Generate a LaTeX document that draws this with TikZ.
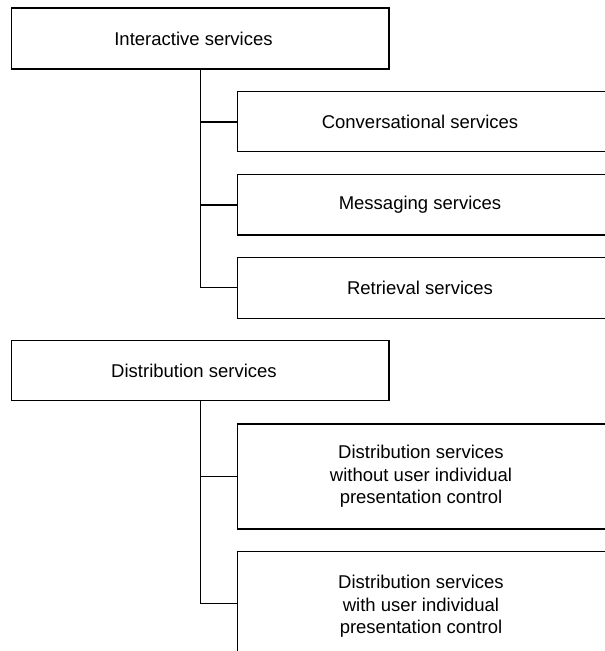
\documentclass[tikz,border=0pt]{standalone}
\usepackage{fontspec}
\setmainfont{Liberation Sans}
\begin{document}
\begin{tikzpicture}[x=1pt,y=-1pt,
  box/.style={draw, line width=1.2pt, rectangle, inner sep=0pt, outer sep=0pt},
  lbl/.style={font=\fontsize{18.5}{22.4}\selectfont, align=center, inner sep=0pt},
  link/.style={line width=0.9pt},
  boldlink/.style={line width=1.7pt}]
\useasboundingbox (0,0) rectangle (605,651);
\clip (0,0) rectangle (605,651);

% Interactive services group
\node[box, minimum width=377.3pt, minimum height=61pt] (p1) at (200.35,38.5) {};
\node[lbl] (tp1) at (193.5,38.5) {Interactive services};
\node[box, minimum width=379.3pt, minimum height=60pt] (c1) at (427.35,121.7) {};
\node[lbl] (tc1) at (420,121.7) {Conversational services};
\node[box, minimum width=379.3pt, minimum height=60.7pt] (c2) at (427.35,204.65) {};
\node[lbl] (tc2) at (420,204.65) {Messaging services};
\node[box, minimum width=379.3pt, minimum height=61pt] (c3) at (427.35,287.6) {};
\node[lbl] (tc3) at (420,287.6) {Retrieval services};

\draw[link] (p1.south) |- (c3.west);
\draw[boldlink] (p1.south |- c1.west) -- (c1.west);
\draw[boldlink] (p1.south |- c2.west) -- (c2.west);

% Distribution services group
\node[box, minimum width=377.3pt, minimum height=60pt] (p2) at (200.35,370.7) {};
\node[lbl] (tp2) at (194,370.7) {Distribution services};
\node[box, minimum width=379.3pt, minimum height=105pt] (d1) at (427.35,476.5) {};
\node[lbl] (td1) at (421,476.5) {Distribution services\\without user individual\\presentation control};
\node[box, minimum width=379.3pt, minimum height=103.2pt] (d2) at (427.35,603.3) {};
\node[lbl] (td2) at (421,606.5) {Distribution services\\with user individual\\presentation control};

\draw[link] (p2.south) |- (d2.west);
\draw[link] (p2.south |- d1.west) -- (d1.west);
\end{tikzpicture}
\end{document}
